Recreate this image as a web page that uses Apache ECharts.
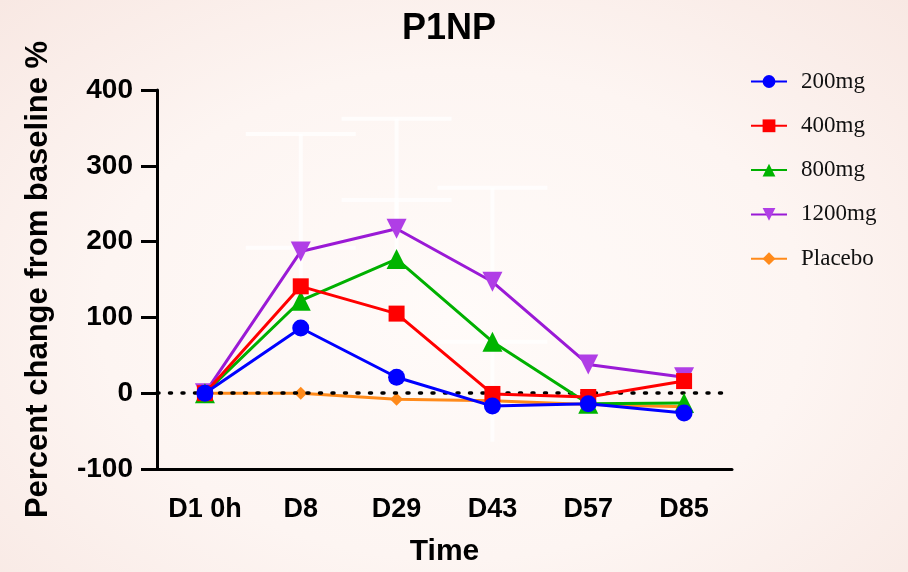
<!DOCTYPE html>
<html><head><meta charset="utf-8">
<script src="https://cdn.jsdelivr.net/npm/echarts@6/dist/echarts.min.js"></script>
<style>
html,body{margin:0;padding:0;}
#c{width:908px;height:572px;background:radial-gradient(ellipse at 50% 55%, #fffbf9 0%, #fdf5f2 55%, #f8e8e3 100%);}
</style></head>
<body><div id="c"></div>
<script>
var categories = ['D1 0h', 'D8', 'D29', 'D43', 'D57', 'D85'];
var s200 = [0, 86, 21, -17, -14, -26];
var s400 = [0, 141, 105, -1, -5, 16];
var s800 = [0, 122, 177, 68, -14, -13];
var s1200 = [0, 187, 217, 147, 38, 21];
var sPlacebo = [0, 0, -8, -10, -15, -18];
// error bars: [categoryIndex, low, high]
var errBars = [[1, 187, 342], [1, 122, 192], [2, 217, 362], [2, 177, 255], [3, 147, 271], [3, -64, 68]];

var chart = echarts.init(document.getElementById('c'));
var font = 'Liberation Sans, Arial, sans-serif';
function line(name, data, color, symColor, symbol, size, z) {
  return {
    name: name, type: 'line', data: data, z: z,
    symbol: symbol, symbolSize: size,
    lineStyle: {color: color, width: 3},
    itemStyle: {color: symColor, borderWidth: 0},
    emphasis: {disabled: true}
  };
}
var option = {
  animation: false,
  title: {text: 'P1NP', left: 444, top: 6, textAlign: 'center',
    textStyle: {fontFamily: font, fontWeight: 'bold', fontSize: 36, color: '#000'}},
  legend: {
    orient: 'vertical', left: 745, top: 65, itemWidth: 36, itemHeight: 16, itemGap: 21.3,
    textStyle: {fontFamily: 'Liberation Serif, Times New Roman, serif', fontSize: 23, color: '#111', padding: [0, 0, 0, 9]},
    data: ['200mg', '400mg', '800mg', '1200mg', 'Placebo']
  },
  grid: {left: 157, right: 176, top: 90, bottom: 97},
  xAxis: {
    type: 'category', data: categories, boundaryGap: true,
    name: 'Time', nameLocation: 'middle', nameGap: 68,
    nameTextStyle: {fontFamily: font, fontWeight: 'bold', fontSize: 30, color: '#000'},
    axisLine: {onZero: false, lineStyle: {color: '#000', width: 3}},
    axisTick: {alignWithLabel: true, length: 15, lineStyle: {color: '#000', width: 3}},
    axisLabel: {interval: 0, fontFamily: font, fontWeight: 'bold', fontSize: 27, color: '#000', margin: 27}
  },
  yAxis: {
    type: 'value', min: -100, max: 400, interval: 100,
    name: 'Percent change from baseline %', nameLocation: 'middle', nameGap: 103,
    nameTextStyle: {fontFamily: font, fontWeight: 'bold', fontSize: 31, color: '#000'},
    axisLine: {show: true, lineStyle: {color: '#000', width: 3}},
    axisTick: {show: true, length: 16, lineStyle: {color: '#000', width: 3}},
    axisLabel: {fontFamily: font, fontWeight: 'bold', fontSize: 28, color: '#000', margin: 24},
    splitLine: {show: false}
  },
  series: [
    {
      type: 'custom', z: 1, silent: true, data: errBars,
      renderItem: function (params, api) {
        var top = api.coord([api.value(0), api.value(2)]);
        var bot = api.coord([api.value(0), api.value(1)]);
        var st = {stroke: 'rgba(255,255,255,0.75)', lineWidth: 4};
        return {type: 'group', children: [
          {type: 'line', shape: {x1: top[0], y1: top[1], x2: bot[0], y2: bot[1]}, style: st},
          {type: 'line', shape: {x1: top[0] - 55, y1: top[1], x2: top[0] + 55, y2: top[1]}, style: st}
        ]};
      }
    },
    line('200mg', s200, '#0000ff', '#0000ff', 'circle', 17, 7),
    Object.assign(line('400mg', s400, '#ff0000', '#ff0000', 'rect', 16, 6), {
      markLine: {silent: true, symbol: 'none', label: {show: false},
        lineStyle: {color: '#000', width: 3.5, type: [2, 10.5], cap: 'round'},
        data: [{yAxis: 0}]}
    }),
    line('800mg', s800, '#00b000', '#00b400', 'triangle', 20, 5),
    line('1200mg', s1200, '#9a1ad6', '#b03ee6', 'path://M0,0 L10,0 L5,9 Z', 20, 4),
    line('Placebo', sPlacebo, '#ff8a1a', '#ff8a1a', 'diamond', 13, 3)
  ]
};
chart.setOption(option);
</script></body></html>
